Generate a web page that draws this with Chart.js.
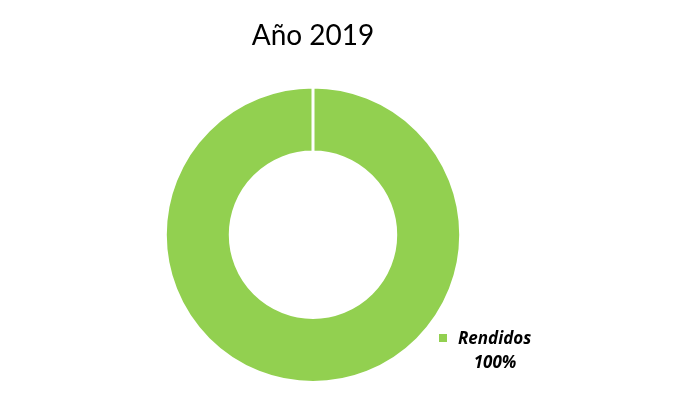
<!DOCTYPE html>
<html lang="es">
<head>
<meta charset="utf-8">
<script src="https://cdn.jsdelivr.net/npm/chart.js"></script>
<style>
  html, body { margin: 0; padding: 0; background: #fff; }
  #wrap { width: 676px; height: 408px; }
</style>
</head>
<body>
<div id="wrap"><canvas id="anio"></canvas></div>
<script>
  const categorias = ['Rendidos'];
  const valores = [100];
  const colores = ['#92D050'];
  const titulo = 'Año 2019';

  // etiqueta "Rendidos 100%" abajo a la derecha
  const etiqueta = {
    id: 'etiqueta',
    afterDraw(chart) {
      const ctx = chart.ctx;
      const total = valores.reduce((a, b) => a + b, 0);
      ctx.save();
      ctx.fillStyle = colores[0];
      ctx.fillRect(439, 334, 8, 8);
      ctx.fillStyle = '#000';
      ctx.font = 'italic bold 17px "Open Sans", sans-serif';
      ctx.textBaseline = 'alphabetic';
      ctx.textAlign = 'left';
      ctx.fillText(categorias[0], 458, 344);
      ctx.textAlign = 'center';
      ctx.fillText(Math.round(valores[0] / total * 100) + '%', 495, 368);
      ctx.restore();
    }
  };

  new Chart(document.getElementById('anio'), {
    type: 'doughnut',
    data: {
      labels: categorias,
      datasets: [{
        data: valores,
        backgroundColor: colores,
        borderColor: '#fff',
        borderWidth: 3
      }]
    },
    options: {
      responsive: true,
      maintainAspectRatio: false,
      animation: false,
      cutout: '56%',
      layout: { padding: { top: 0, bottom: 24, left: 0, right: 50 } },
      plugins: {
        legend: { display: false },
        tooltip: { enabled: false },
        title: {
          display: true,
          text: titulo,
          color: '#000',
          font: { family: 'Lato, "Open Sans", sans-serif', size: 28, weight: 'normal' },
          padding: { top: 19, bottom: 33 }
        }
      }
    },
    plugins: [etiqueta]
  });
</script>
</body>
</html>
